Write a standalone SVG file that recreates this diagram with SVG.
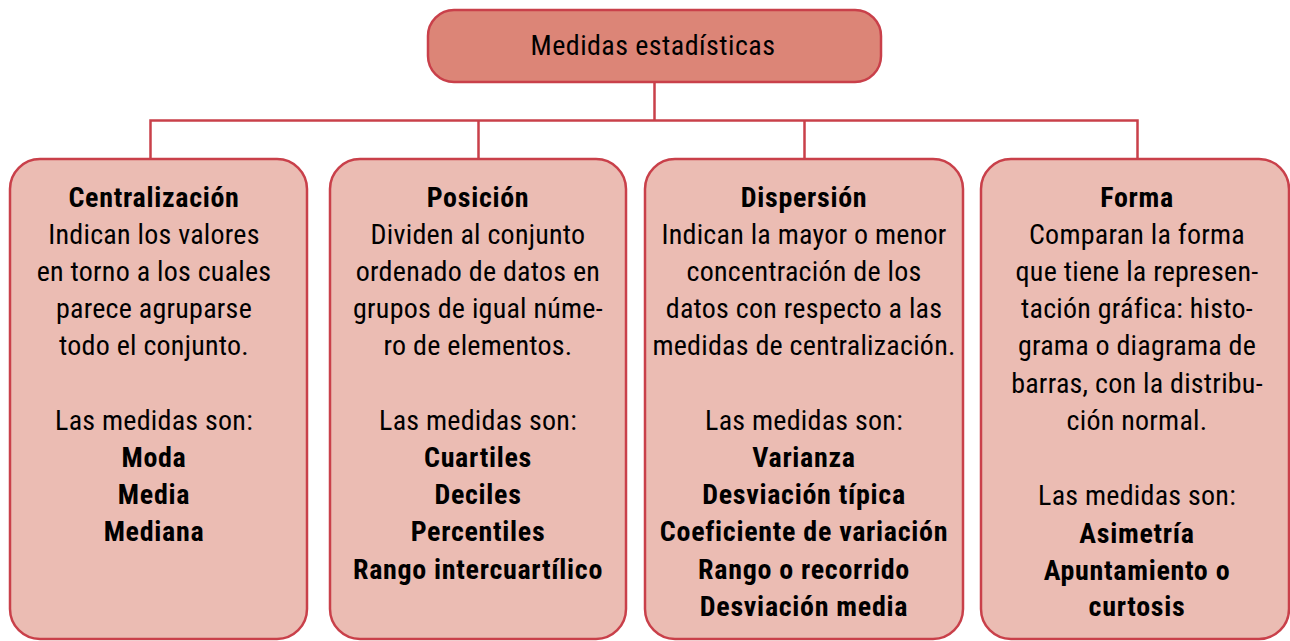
<svg xmlns="http://www.w3.org/2000/svg" width="1290" height="641" viewBox="0 0 1290 641">
<style>
.box{fill:#ebbcb3;stroke:#c9404a;stroke-width:2.5}
.top{fill:#dc8577;stroke:#c9404a;stroke-width:2.5}
.conn{fill:none;stroke:#c9404a;stroke-width:2.5}
text{font-family:"Liberation Sans Narrow","Roboto Condensed","Liberation Sans",sans-serif;font-size:28px;letter-spacing:0.25px;fill:#000;text-anchor:middle}
.b{font-weight:bold;letter-spacing:0.7px}
</style>
<rect width="1290" height="641" fill="#fff"/>
<g id="connectors">
<path class="conn" d="M654.5 82V120.5M150.5 159V120.5H1137.5V159M478.5 120.5V159M804.5 120.5V159"/>
</g>
<g id="root">
<rect class="top" x="428" y="10" width="453" height="72" rx="26"/>
<text x="653" y="55" style="letter-spacing:0.45px">Medidas estadísticas</text>
</g>
<g id="centralizacion">
<rect class="box" x="10" y="159" width="297" height="480" rx="30"/>
<text x="154" y="207" class="b">Centralización</text>
<text x="154" y="244">Indican los valores</text>
<text x="154" y="281">en torno a los cuales</text>
<text x="154" y="318">parece agruparse</text>
<text x="154" y="355">todo el conjunto.</text>
<text x="154" y="430">Las medidas son:</text>
<text x="154" y="467" class="b">Moda</text>
<text x="154" y="504" class="b">Media</text>
<text x="154" y="541" class="b">Mediana</text>
</g>
<g id="posicion">
<rect class="box" x="330" y="159" width="296" height="480" rx="30"/>
<text x="478" y="207" class="b">Posición</text>
<text x="478" y="244">Dividen al conjunto</text>
<text x="478" y="281">ordenado de datos en</text>
<text x="478" y="318">grupos de igual núme-</text>
<text x="478" y="355">ro de elementos.</text>
<text x="478" y="430">Las medidas son:</text>
<text x="478" y="467" class="b">Cuartiles</text>
<text x="478" y="504" class="b">Deciles</text>
<text x="478" y="541" class="b">Percentiles</text>
<text x="478" y="579" class="b">Rango intercuartílico</text>
</g>
<g id="dispersion">
<rect class="box" x="645" y="159" width="318" height="480" rx="30"/>
<text x="804" y="207" class="b">Dispersión</text>
<text x="804" y="244">Indican la mayor o menor</text>
<text x="804" y="281">concentración de los</text>
<text x="804" y="318">datos con respecto a las</text>
<text x="804" y="355">medidas de centralización.</text>
<text x="804" y="430">Las medidas son:</text>
<text x="804" y="467" class="b">Varianza</text>
<text x="804" y="504" class="b">Desviación típica</text>
<text x="804" y="541" class="b">Coeficiente de variación</text>
<text x="804" y="579" class="b">Rango o recorrido</text>
<text x="804" y="616" class="b">Desviación media</text>
</g>
<g id="forma">
<rect class="box" x="981" y="159" width="308" height="480" rx="30"/>
<text x="1137" y="207" class="b">Forma</text>
<text x="1137" y="244">Comparan la forma</text>
<text x="1137" y="281">que tiene la represen-</text>
<text x="1137" y="318">tación gráfica: histo-</text>
<text x="1137" y="355">grama o diagrama de</text>
<text x="1137" y="393">barras, con la distribu-</text>
<text x="1137" y="430">ción normal.</text>
<text x="1137" y="505">Las medidas son:</text>
<text x="1137" y="543" class="b">Asimetría</text>
<text x="1137" y="580" class="b">Apuntamiento o</text>
<text x="1137" y="616" class="b">curtosis</text>
</g>
</svg>
